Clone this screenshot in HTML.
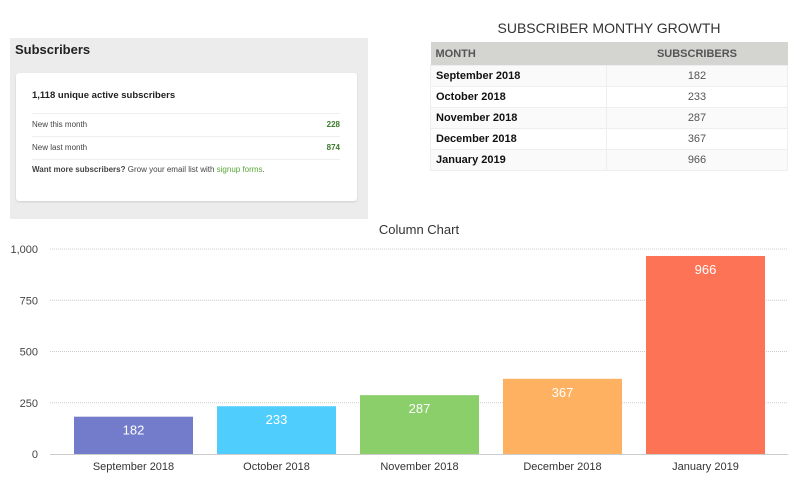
<!DOCTYPE html>
<html><head><meta charset="utf-8"><style>
body{margin:0;width:800px;height:490px;background:#fff;font-family:"Liberation Sans",sans-serif;position:relative;overflow:hidden}
.panel{position:absolute;left:10px;top:38px;width:358px;height:181px;background:#ececec}
.panel h2{position:absolute;left:5px;top:4px;margin:0;font-size:13px;font-weight:bold;color:#222}
.card{position:absolute;left:6px;top:35px;width:341px;height:128px;background:#fff;border-radius:3px;box-shadow:0 1px 2px rgba(0,0,0,.12)}
.card .t{position:absolute;left:16px;top:17px;font-size:9.5px;font-weight:bold;color:#222}
.row{position:absolute;left:16px;width:308px;height:22px;border-top:1px solid #eee;font-size:8px;color:#444;line-height:22px}
.row span{position:absolute;right:0;color:#3a7a2a;font-weight:bold}
.card .f{position:absolute;left:16px;top:92px;font-size:8px;color:#444}
.card .f a{color:#58a83a;text-decoration:none}
.ttl{position:absolute;left:430px;top:20px;width:358px;text-align:center;font-size:14px;color:#333}
table{position:absolute;left:430px;top:42px;width:358px;border-collapse:collapse;font-size:11px}
th{background:#d4d4d0;color:#555;height:23px;text-align:left;padding:0 5px;font-size:11px}
th+th{text-align:center}
td{height:20px;padding:0 5px;border:1px solid #eee;color:#111}
td+td{text-align:center;color:#555;width:170px}
tr:nth-child(even) td{background:#fafafa}
</style></head><body>
<div class="panel">
<h2>Subscribers</h2>
<div class="card">
<div class="t">1,118 unique active subscribers</div>
<div class="row" style="top:40px">New this month<span>228</span></div>
<div class="row" style="top:63px">New last month<span>874</span></div>
<div class="row" style="top:86px;height:1px"></div>
<div class="f"><b>Want more subscribers?</b> Grow your email list with <a>signup forms</a>.</div>
</div></div>
<div class="ttl">SUBSCRIBER MONTHY GROWTH</div>
<table>
<tr><th>MONTH</th><th>SUBSCRIBERS</th></tr>
<tr><td><b>September 2018</b></td><td>182</td></tr>
<tr><td><b>October 2018</b></td><td>233</td></tr>
<tr><td><b>November 2018</b></td><td>287</td></tr>
<tr><td><b>December 2018</b></td><td>367</td></tr>
<tr><td><b>January 2019</b></td><td>966</td></tr>
</table>
<svg id="chart" width="800" height="490" style="position:absolute;left:0;top:0"></svg>
<script>
const categories=["September 2018","October 2018","November 2018","December 2018","January 2019"];
const values=[182,233,287,367,966];
const colors=["#737bcb","#4fcdfd","#8acf6a","#feb160","#fd7356"];
const ticks=[0,250,500,750,1000];
const tickLabels=["0","250","500","750","1,000"];
const NS="http://www.w3.org/2000/svg",svg=document.getElementById('chart');
const y=v=>454-v*0.205, bandX=i=>62+i*143, bw=119;
function mk(t,a,txt){const e=document.createElementNS(NS,t);for(const k in a)e.setAttribute(k,a[k]);if(txt!=null)e.textContent=txt;svg.appendChild(e);return e;}
const title=mk('text',{x:419,y:234,'text-anchor':'middle','font-size':13,fill:'#333'},'Column Chart');


ticks.forEach((t,i)=>{
 if(t>0){const g=mk('line',{x1:50,x2:788,y1:y(t),y2:y(t),stroke:'#ccc','stroke-dasharray':'1,1'});
 
 }
 const l=mk('text',{x:38,y:y(t)+4,'text-anchor':'end','font-size':11,fill:'#444'},tickLabels[i]);
 
 
});
values.forEach((v,i)=>{
 const r=mk('rect',{x:bandX(i)+12,y:y(v),width:bw,height:454-y(v),fill:colors[i]});
 
 
 const t=mk('text',{x:bandX(i)+12+bw/2,y:y(v)+18,'text-anchor':'middle','font-size':13,fill:'#fff'},String(v));
 
 
 const c=mk('text',{x:bandX(i)+12+bw/2,y:470,'text-anchor':'middle','font-size':11,fill:'#333'},categories[i]);
 
 
});
const ax=mk('line',{x1:50,x2:788,y1:454.5,y2:454.5,stroke:'#ccc'});


</script>
</body></html>
